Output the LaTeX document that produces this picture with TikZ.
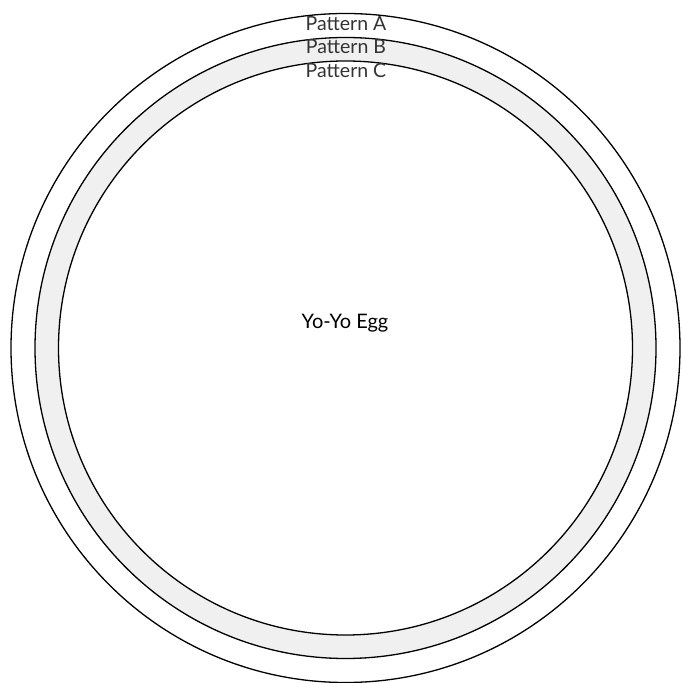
\documentclass[tikz,border=0pt]{standalone}
\usepackage{fontspec}
\setmainfont{Lato}
\definecolor{ringgray}{HTML}{F0F0F0}
\definecolor{labelgray}{HTML}{333333}

\begin{document}
\begin{tikzpicture}[x=1pt,y=1pt,
    ring/.style={draw=black, line width=1.3pt},
    layer/.style={font=\fontsize{19.5}{20}\selectfont, text=labelgray, inner sep=0pt},
    core/.style={font=\fontsize{20}{21}\selectfont, text=black, inner sep=0pt}]
      \useasboundingbox (0,0) rectangle (681,683);
      \coordinate (O) at (345.5,335);
      \draw [ring, fill=white] (O) circle (334.5);
      \draw [ring, fill=ringgray] (O) circle (310.5);
      \draw [ring, fill=white] (O) circle (287);
      \node [layer] (A) at (346,659) {Pattern A};
      \node [layer] (B) at (346,636) {Pattern B};
      \node [layer] (C) at (346,612) {Pattern C};
      \node [core] (E) at (345,360) {Yo-Yo Egg};
    \end{tikzpicture}
\end{document}
